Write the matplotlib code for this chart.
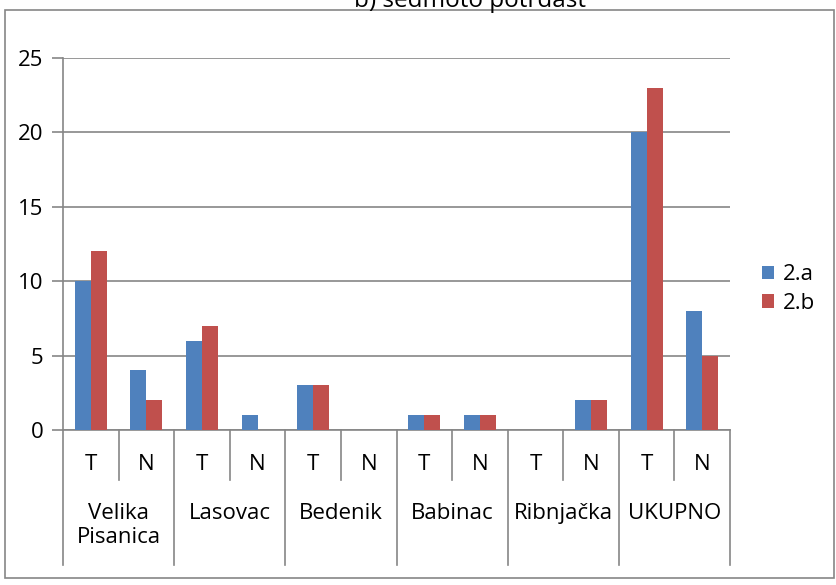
import matplotlib
matplotlib.use("Agg")
import matplotlib.pyplot as plt
from matplotlib.patches import Rectangle
from matplotlib.lines import Line2D
import numpy as np

plt.rcParams['font.family'] = ['Open Sans', 'DejaVu Sans']

groups = ['Velika\nPisanica', 'Lasovac', 'Bedenik', 'Babinac', 'Ribnjačka', 'UKUPNO']
sub = ['T', 'N']
s2a = [10, 4, 6, 1, 3, 0, 1, 1, 0, 2, 20, 8]
s2b = [12, 2, 7, 0, 3, 0, 1, 1, 0, 2, 23, 5]
series_names = ['2.a', '2.b']
title = 'b) sedmoto potrdast'

blue = '#4F81BD'
red = '#C0504D'
grey = '#868686'
fs = 16

W, H = 837, 585
fig = plt.figure(figsize=(W / 100, H / 100), dpi=100)
# outer chart border
fig.patches.append(Rectangle((5 / W, 1 - 578 / H), 829 / W, 568 / H,
                             transform=fig.transFigure, fill=False,
                             edgecolor=grey, lw=1.2))
fig.text(470 / W, 1 - 1 / H, title, ha='center', va='center', fontsize=17.5)

ax = fig.add_axes([63 / W, 1 - 430 / H, 667 / W, 372 / H])
n = len(s2a)
x = np.arange(n)
bw = 0.286
ax.bar(x - bw / 2, s2a, bw, color=blue, edgecolor='none', label=series_names[0], zorder=3)
ax.bar(x + bw / 2, s2b, bw, color=red, edgecolor='none', label=series_names[1], zorder=3)

ax.set_xlim(-0.5, n - 0.5)
ax.set_ylim(0, 25)
ax.set_yticks(range(0, 26, 5))
ax.yaxis.grid(True, color=grey, lw=1.2, zorder=0)
for s in ['top', 'right']:
    ax.spines[s].set_visible(False)
for s in ['left', 'bottom']:
    ax.spines[s].set_color(grey)
    ax.spines[s].set_linewidth(1.2)
ax.tick_params(axis='y', length=8, color=grey, width=1.2, labelsize=fs, pad=6)
ax.set_xticks([])

trans = ax.get_xaxis_transform()
axh = 372
for i in range(n):
    ax.text(i, -34 / axh, sub[i % 2], transform=trans, ha='center', va='center', fontsize=fs)
for g, name in enumerate(groups):
    xc = 2 * g + 0.5
    ax.text(xc, -73 / axh, name, transform=trans, ha='center', va='top', fontsize=fs,
            linespacing=1.2)
# separators
for k in range(n + 1):
    depth = 135 if k % 2 == 0 else 50
    ax.add_line(Line2D([k - 0.5, k - 0.5], [0, -depth / axh], transform=trans,
                       color=grey, lw=1.2, clip_on=False))

ax.legend(loc='center left', bbox_to_anchor=(1.035, (430 - 289) / axh), frameon=False,
          fontsize=fs, handlelength=0.55, handleheight=0.55, handletextpad=0.4,
          labelspacing=0.35, borderaxespad=0)

fig.savefig('out.png', dpi=100)
